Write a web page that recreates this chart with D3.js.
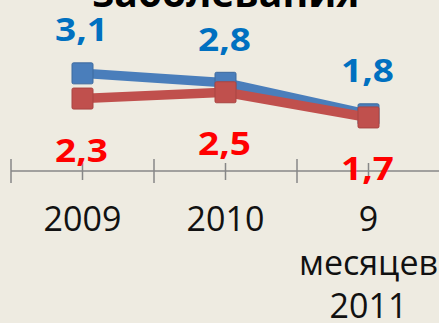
<!DOCTYPE html>
<html>
<head>
<meta charset="utf-8">
<script src="https://cdn.jsdelivr.net/npm/d3@7"></script>
<style>
  html, body { margin: 0; padding: 0; background: #eeebe1; }
  svg { display: block; }
</style>
</head>
<body>
<svg id="chart" width="439" height="323"></svg>
<script>
// Chart data
const categories = ["2009", "2010", "9 месяцев 2011"];
const categoryLines = [["2009"], ["2010"], ["9", "месяцев", "2011"]];
const seriesBlue = [3.1, 2.8, 1.8];
const seriesRed = [2.3, 2.5, 1.7];
const labelsBlue = ["3,1", "2,8", "1,8"];
const labelsRed = ["2,3", "2,5", "1,7"];
const titleText = "заболевания";

const svg = d3.select("#chart");
const W = 439, H = 323;

svg.append("rect").attr("width", W).attr("height", H).attr("fill", "#eeebe1");

// Scales: one band per category, value axis from zero at the category axis
const x = d3.scaleBand().domain(categories).range([11, 440]).paddingInner(0).paddingOuter(0);
const y = d3.scaleLinear().domain([0, 4]).range([171, 45]);
const cx = c => x(c) + x.bandwidth() / 2;

// Title (its upper part is cropped by the top edge)
svg.append("text")
  .attr("x", 226).attr("y", 7)
  .attr("text-anchor", "middle")
  .attr("font-family", "'Open Sans', sans-serif")
  .attr("font-weight", 700)
  .attr("font-size", 39)
  .attr("fill", "#000")
  .text(titleText);

// Category axis line
const axisY = y(0);
svg.append("line")
  .attr("x1", 11).attr("x2", W)
  .attr("y1", axisY).attr("y2", axisY)
  .attr("stroke", "#878787").attr("stroke-width", 1.5);

// Major ticks at category boundaries, minor ticks at category centres
const bounds = categories.map(c => x(c));
svg.selectAll("line.major").data(bounds).enter().append("line")
  .attr("class", "major")
  .attr("x1", d => d).attr("x2", d => d)
  .attr("y1", axisY - 12).attr("y2", axisY + 12)
  .attr("stroke", "#878787").attr("stroke-width", 1.5);
svg.selectAll("line.minor").data(categories).enter().append("line")
  .attr("class", "minor")
  .attr("x1", d => cx(d)).attr("x2", d => cx(d))
  .attr("y1", axisY - 8).attr("y2", axisY + 9)
  .attr("stroke", "#878787").attr("stroke-width", 1.5);

// Category labels (multi-line where needed)
const catG = svg.selectAll("text.cat").data(categories).enter().append("text")
  .attr("class", "cat")
  .attr("text-anchor", "middle")
  .attr("font-family", "'Open Sans', sans-serif")
  .attr("font-size", 34)
  .attr("fill", "#111");
catG.each(function (c, i) {
  const t = d3.select(this);
  categoryLines[i].forEach((ln, j) => {
    t.append("tspan").attr("x", cx(c)).attr("y", 231 + j * 43.5).text(ln);
  });
});

// Series lines and markers
function drawSeries(values, color, edge) {
  const pts = categories.map((c, i) => [cx(c), y(values[i])]);
  svg.append("path")
    .attr("d", d3.line()(pts))
    .attr("fill", "none")
    .attr("stroke", color)
    .attr("stroke-width", 9.5)
    .attr("stroke-linejoin", "round");
  svg.selectAll(null).data(pts).enter().append("rect")
    .attr("x", d => d[0] - 10.5).attr("y", d => d[1] - 10.5)
    .attr("width", 21).attr("height", 21)
    .attr("rx", 1.5)
    .attr("fill", color)
    .attr("stroke", edge).attr("stroke-width", 1);
}
drawSeries(seriesBlue, "#4a7ebb", "#3d6a9e");
drawSeries(seriesRed, "#c0504d", "#a94442");

// Value labels, slightly widened bold digits
function drawLabels(values, labels, color, offset) {
  svg.selectAll(null).data(values).enter().append("text")
    .attr("transform", (d, i) => `translate(${cx(categories[i]) - 1},${y(d) + offset}) scale(1.12,1)`)
    .attr("text-anchor", "middle")
    .attr("font-family", "'Open Sans', sans-serif")
    .attr("font-weight", 700)
    .attr("font-size", 33)
    .attr("fill", color)
    .text((d, i) => labels[i]);
}
drawLabels(seriesBlue, labelsBlue, "#0070c0", -32);
drawLabels(seriesRed, labelsRed, "#ff0000", 63);
</script>
</body>
</html>
